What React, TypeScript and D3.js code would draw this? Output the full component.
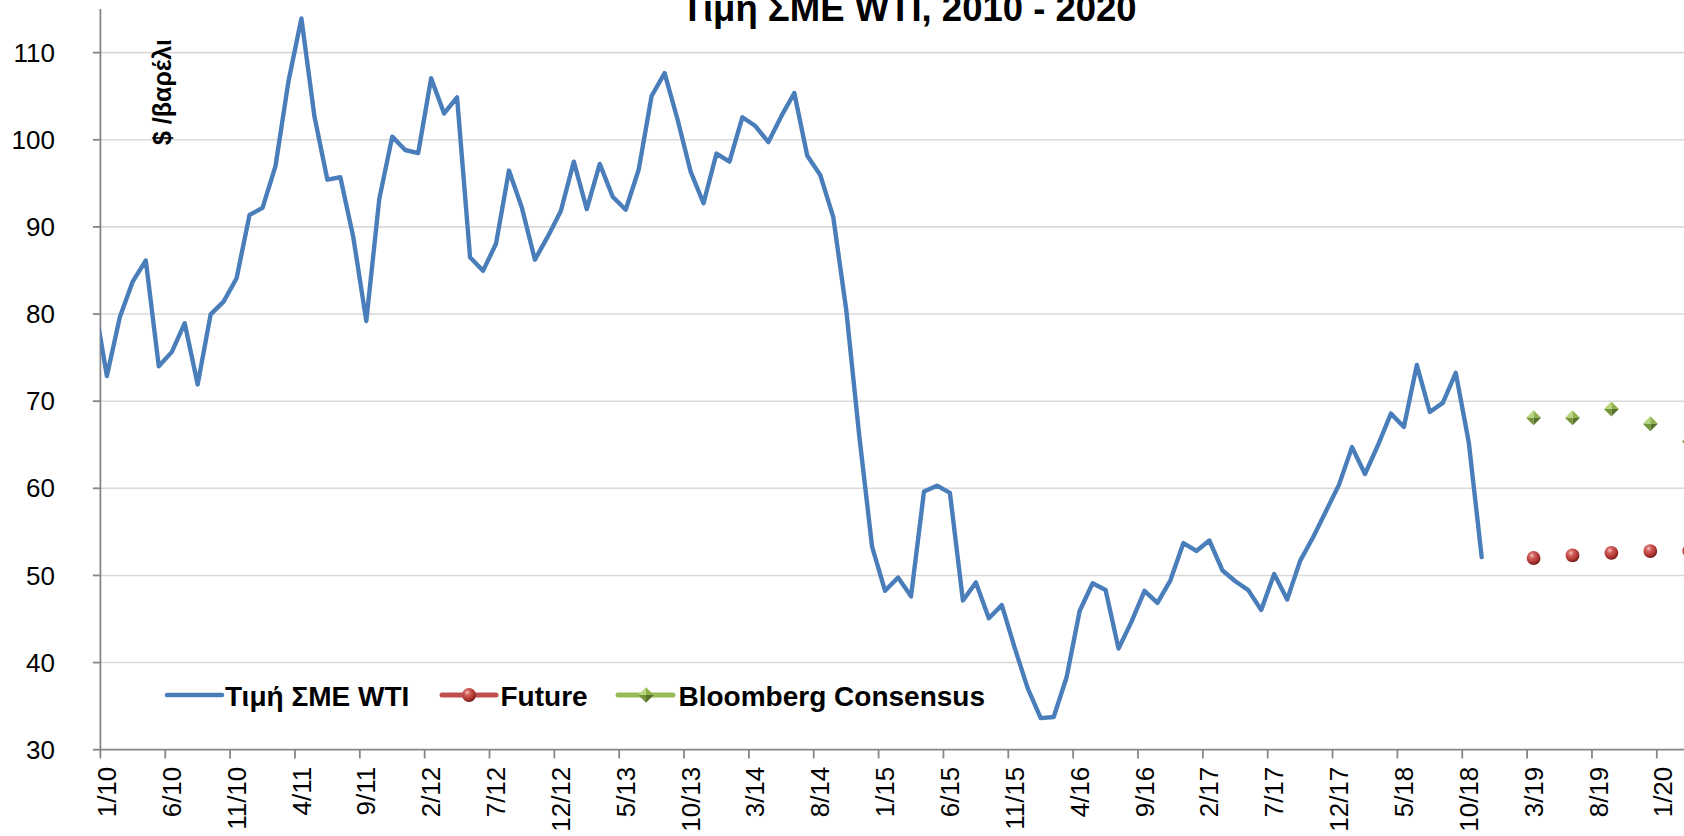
import React from "react";
import * as d3 from "d3";

// end-of-month WTI close, $/barrel
const wtiDec2009 = 81.7; // only the clipped stub left of the axis
const wti2010 = [72.89, 79.66, 83.76, 86.15, 74.0, 75.63, 78.95, 71.92, 79.97, 81.43, 84.11, 91.38];
const wti2011 = [92.19, 96.97, 106.72, 113.93, 102.7, 95.42, 95.7, 88.81, 79.2, 93.19, 100.36, 98.83];
const wti2012 = [98.48, 107.07, 103.02, 104.87, 86.53, 84.96, 88.06, 96.47, 92.19, 86.24, 88.91, 91.82];
const wti2013 = [97.49, 92.05, 97.23, 93.46, 91.97, 96.56, 105.03, 107.65, 102.33, 96.38, 92.72, 98.42];
const wti2014 = [97.49, 102.59, 101.58, 99.74, 102.71, 105.37, 98.17, 95.96, 91.16, 80.54, 66.15, 53.27];
const wti2015 = [48.24, 49.76, 47.6, 59.63, 60.3, 59.47, 47.12, 49.2, 45.09, 46.59, 41.65, 37.04];
const wti2016 = [33.62, 33.75, 38.34, 45.92, 49.1, 48.33, 41.6, 44.7, 48.24, 46.86, 49.44, 53.72];
const wti2017 = [52.81, 54.01, 50.6, 49.33, 48.32, 46.04, 50.17, 47.23, 51.67, 54.38, 57.4, 60.42];
const wti2018 = [64.73, 61.64, 64.94, 68.57, 67.04, 74.15, 68.76, 69.8, 73.25, 65.31, 52.1];

const forecastMonths = ["3/19", "6/19", "9/19", "12/19", "3/20"];
const futureValues = [52.0, 52.3, 52.6, 52.8, 52.8];
const consensusValues = [68.1, 68.1, 69.1, 67.4, 65.4];

const xTickLabels = [
  "1/10", "6/10", "11/10", "4/11", "9/11", "2/12", "7/12", "12/12", "5/13",
  "10/13", "3/14", "8/14", "1/15", "6/15", "11/15", "4/16", "9/16", "2/17",
  "7/17", "12/17", "5/18", "10/18", "3/19", "8/19", "1/20", "6/20", "11/20",
];
const yTicks = [30, 40, 50, 60, 70, 80, 90, 100, 110];

const W = 1684;
const H = 836;
const FONT = "'Liberation Sans', Arial, sans-serif";

// categories: one per month, 1/10 .. 12/20
const categories = d3.range(132).map(
  (i) => `${(i % 12) + 1}/${String((10 + Math.floor(i / 12)) % 100).padStart(2, "0")}`
);

const App = () => {
  const plotLeft = 100.4;
  const step = 12.97;
  const axisY = 749.7;

  const x = d3
    .scaleLinear()
    .domain([0, categories.length])
    .range([plotLeft, plotLeft + categories.length * step]);
  const y = d3.scaleLinear().domain([30, 115]).range([axisY, 9.1]);

  const cx = (label: string) => x(categories.indexOf(label) + 0.5);

  const wti = [
    ...wti2010, ...wti2011, ...wti2012, ...wti2013, ...wti2014,
    ...wti2015, ...wti2016, ...wti2017, ...wti2018,
  ];
  const pts: [number, number][] = [[-1, wtiDec2009], ...wti.map((v, i) => [i, v] as [number, number])];

  const line = d3
    .line<[number, number]>()
    .x((d) => x(d[0] + 0.5))
    .y((d) => y(d[1]));

  const diamond = (px: number, py: number, h: number, key: string) => (
    <g key={key}>
      <path d={`M${px},${py}L${px - h},${py}L${px},${py - h}Z`} fill="#b8d680" />
      <path d={`M${px},${py}L${px},${py - h}L${px + h},${py}Z`} fill="#8fb24c" />
      <path d={`M${px},${py}L${px + h},${py}L${px},${py + h}Z`} fill="#56742a" />
      <path d={`M${px},${py}L${px},${py + h}L${px - h},${py}Z`} fill="#739438" />
    </g>
  );

  return (
    <svg
      width={W}
      height={H}
      style={{ position: "absolute", left: 0, top: 0, background: "#fff" }}
      fontFamily={FONT}
    >
      <defs>
        <clipPath id="plot">
          <rect x={plotLeft} y={0} width={W - plotLeft} height={axisY} />
        </clipPath>
        <radialGradient id="ball" cx="38%" cy="32%" r="70%">
          <stop offset="0%" stopColor="#f6c0be" />
          <stop offset="30%" stopColor="#d25f5b" />
          <stop offset="75%" stopColor="#a8322e" />
          <stop offset="100%" stopColor="#6a1816" />
        </radialGradient>
      </defs>

      <text x={909} y={20.5} textAnchor="middle" fontSize={36.5} fontWeight="bold">
        Τιμή ΣΜΕ WTI, 2010 - 2020
      </text>

      {/* gridlines */}
      {yTicks.filter((t) => t > 30).map((t) => (
        <line key={t} x1={plotLeft} x2={W} y1={y(t)} y2={y(t)} stroke="#d9d9d9" strokeWidth={1.6} />
      ))}

      {/* y axis */}
      <line x1={plotLeft} x2={plotLeft} y1={y(115)} y2={axisY} stroke="#868686" strokeWidth={1.8} />
      {yTicks.map((t) => (
        <g key={t}>
          <line x1={plotLeft - 7.5} x2={plotLeft} y1={y(t)} y2={y(t)} stroke="#868686" strokeWidth={1.8} />
          <text x={55} y={y(t)} dy="0.35em" textAnchor="end" fontSize={26}>
            {t}
          </text>
        </g>
      ))}
      <text
        transform={`translate(171,92) rotate(-90)`}
        textAnchor="middle"
        fontSize={25}
        fontWeight="bold"
      >
        $ /βαρέλι
      </text>

      {/* x axis */}
      <line x1={plotLeft} x2={W} y1={axisY} y2={axisY} stroke="#868686" strokeWidth={1.8} />
      {xTickLabels.map((lab) => {
        const i = categories.indexOf(lab);
        return (
          <g key={lab}>
            <line x1={x(i)} x2={x(i)} y1={axisY} y2={axisY + 8.7} stroke="#868686" strokeWidth={1.8} />
            <text
              transform={`translate(${x(i + 0.5)},${axisY + 17}) rotate(-90)`}
              dy="0.35em"
              textAnchor="end"
              fontSize={26}
            >
              {lab}
            </text>
          </g>
        );
      })}

      {/* WTI */}
      <path
        d={line(pts) ?? ""}
        fill="none"
        stroke="#4a7ebb"
        strokeWidth={4.4}
        strokeLinejoin="round"
        strokeLinecap="round"
        clipPath="url(#plot)"
      />

      {/* forecasts, markers only */}
      {forecastMonths.map((m, i) => diamond(cx(m), y(consensusValues[i]), 7.5, "c" + m))}
      {forecastMonths.map((m, i) => (
        <circle key={"f" + m} cx={cx(m)} cy={y(futureValues[i])} r={6.9} fill="url(#ball)" />
      ))}

      {/* legend */}
      <g fontSize={28} fontWeight="bold">
        <line x1={167} x2={222} y1={695} y2={695} stroke="#4a7ebb" strokeWidth={4.5} strokeLinecap="round" />
        <text x={225} y={706}>Τιμή ΣΜΕ WTI</text>

        <line x1={442} x2={496} y1={695} y2={695} stroke="#c0504d" strokeWidth={5} strokeLinecap="round" />
        <circle cx={469} cy={695} r={6.9} fill="url(#ball)" />
        <text x={500.5} y={706}>Future</text>

        <line x1={618} x2={673} y1={695} y2={695} stroke="#9bbb59" strokeWidth={5} strokeLinecap="round" />
        {diamond(646, 695, 7.8, "legend")}
        <text x={678.5} y={706}>Bloomberg Consensus</text>
      </g>
    </svg>
  );
};

export default App;
